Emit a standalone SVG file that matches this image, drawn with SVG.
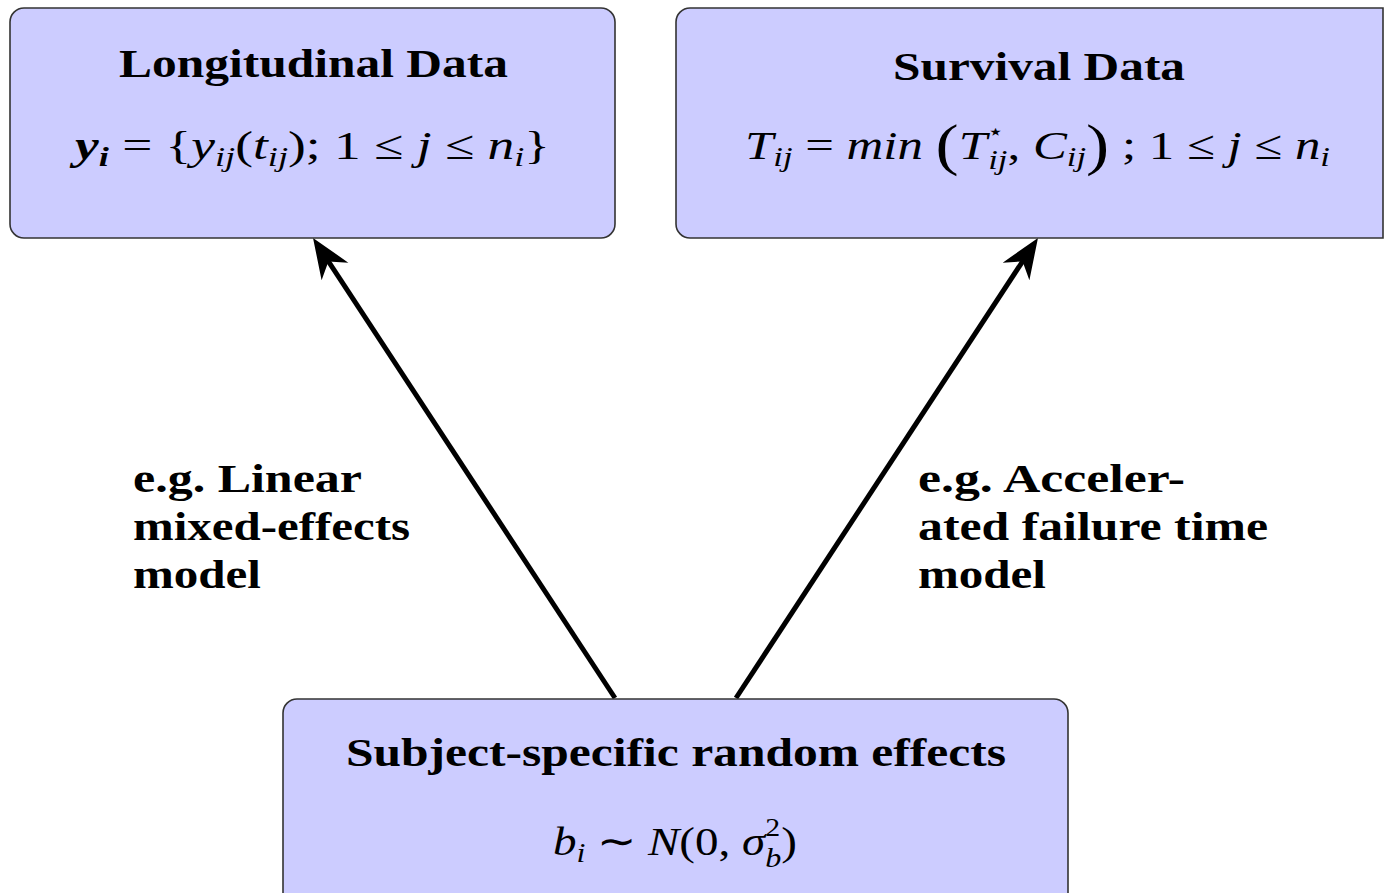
<svg xmlns="http://www.w3.org/2000/svg" width="1387" height="893" viewBox="0 0 1387 893">
<style>
.box{fill:#ccccff;stroke:#333333;stroke-width:1.6}
.t{font-family:"Liberation Serif","Times New Roman",serif;font-weight:bold;font-size:40px;fill:#000}
.m{font-family:"Liberation Serif","Times New Roman",serif;font-size:41px;fill:#000}
.it{font-style:italic}
.bi{font-style:italic;font-weight:bold}
.sb{font-style:italic;font-size:28px}
.edge{fill:none;stroke:#000;stroke-width:5}
</style>
<defs>
<marker id="stealth" markerUnits="userSpaceOnUse" viewBox="-62 -20 64 40" refX="-20" refY="0" markerWidth="64" markerHeight="40" orient="auto">
<path d="M0,0 L-40,-16 L-28,0 L-40,16 Z" fill="#000"/>
</marker>
</defs>
<rect width="1387" height="893" fill="#fff"/>
<g id="edges">
<line class="edge" x1="615" y1="698" x2="324" y2="254.7" marker-end="url(#stealth)"/>
<line class="edge" x1="736" y1="698" x2="1027" y2="254.7" marker-end="url(#stealth)"/>
<text class="t" x="133" y="492" textLength="229" lengthAdjust="spacingAndGlyphs">e.g. Linear</text>
<text class="t" x="133" y="540" textLength="277" lengthAdjust="spacingAndGlyphs">mixed-effects</text>
<text class="t" x="133" y="588" textLength="128" lengthAdjust="spacingAndGlyphs">model</text>
<text class="t" x="918" y="492" textLength="267" lengthAdjust="spacingAndGlyphs">e.g. Acceler-</text>
<text class="t" x="918" y="540" textLength="350" lengthAdjust="spacingAndGlyphs">ated failure time</text>
<text class="t" x="918" y="588" textLength="128" lengthAdjust="spacingAndGlyphs">model</text>
</g>
<g id="longitudinal">
<rect class="box" x="10" y="8" width="605" height="230" rx="14"/>
<text class="t" x="119" y="77" textLength="389" lengthAdjust="spacingAndGlyphs">Longitudinal Data</text>
<text class="m" x="75" y="159" textLength="475" lengthAdjust="spacingAndGlyphs"><tspan class="bi">y</tspan><tspan class="bi" font-size="28" dy="7">i</tspan><tspan dy="-7"> = {</tspan><tspan class="it">y</tspan><tspan class="sb" dy="7">ij</tspan><tspan dy="-7">(</tspan><tspan class="it">t</tspan><tspan class="sb" dy="7">ij</tspan><tspan dy="-7">); 1 ≤ </tspan><tspan class="it">j</tspan><tspan> ≤ </tspan><tspan class="it">n</tspan><tspan class="sb" dy="7">i</tspan><tspan dy="-7">}</tspan></text>
</g>
<g id="survival">
<path class="box" d="M690,8 H1383 V238 H690 A14,14 0 0 1 676,224 V22 A14,14 0 0 1 690,8 Z"/>
<text class="t" x="893" y="80" textLength="292" lengthAdjust="spacingAndGlyphs">Survival Data</text>
<text class="m" x="745" y="159" textLength="585" lengthAdjust="spacingAndGlyphs"><tspan class="it">T</tspan><tspan class="sb" dy="7">ij</tspan><tspan dy="-7"> = </tspan><tspan class="it">min </tspan><tspan font-size="56" dy="5">(</tspan><tspan class="it" dy="-5">T</tspan><tspan font-size="22" dy="-20">⋆</tspan><tspan class="sb" dx="-13" dy="30">ij</tspan><tspan dy="-10">, </tspan><tspan class="it">C</tspan><tspan class="sb" dy="7">ij</tspan><tspan font-size="56" dy="-2">)</tspan><tspan dy="-5"> ; 1 ≤ </tspan><tspan class="it">j</tspan><tspan> ≤ </tspan><tspan class="it">n</tspan><tspan class="sb" dy="7">i</tspan></text>
</g>
<g id="random-effects">
<path class="box" d="M283,900 V713 A14,14 0 0 1 297,699 H1054 A14,14 0 0 1 1068,713 V900"/>
<text class="t" x="346" y="766" textLength="660" lengthAdjust="spacingAndGlyphs">Subject-specific random effects</text>
<text class="m" x="553" y="855" textLength="244" lengthAdjust="spacingAndGlyphs"><tspan class="it">b</tspan><tspan class="sb" dy="7">i</tspan><tspan dy="-7"> ∼ </tspan><tspan class="it">N</tspan><tspan>(0, </tspan><tspan class="it">σ</tspan><tspan font-size="26" dy="-19">2</tspan><tspan class="sb" dx="-13" dy="31">b</tspan><tspan dy="-12">)</tspan></text>
</g>
</svg>
